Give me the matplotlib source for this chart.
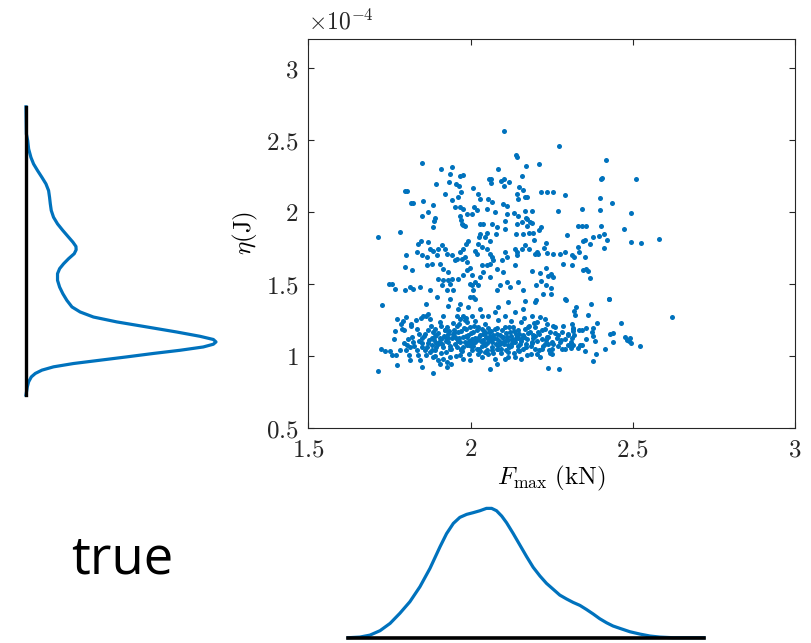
import matplotlib
matplotlib.use('Agg')
import matplotlib.pyplot as plt
from matplotlib.ticker import FuncFormatter

plt.rcParams['mathtext.fontset'] = 'cm'

BLUE = '#0072BD'

low_left = [
    (1.728, 1.353), (1.715, 0.894), (1.725, 1.048), (1.736, 1.030), (1.751, 1.030), (1.759, 1.002),
    (1.770, 1.002), (1.772, 0.938), (1.782, 1.042), (1.764, 1.113), (1.767, 1.169), (1.774, 1.256),
    (1.787, 1.222), (1.792, 1.238), (1.790, 1.187), (1.795, 1.176), (1.801, 1.268), (1.815, 1.222),
    (1.818, 1.210), (1.808, 1.118), (1.803, 1.072), (1.813, 1.060), (1.811, 1.002), (1.813, 0.968),
    (1.823, 1.095), (1.831, 1.245), (1.834, 1.187), (1.842, 1.152), (1.846, 1.261), (1.849, 1.122),
    (1.854, 1.279), (1.862, 1.275), (1.869, 1.289), (1.875, 1.256), (1.839, 1.002), (1.844, 0.968),
    (1.849, 0.921), (1.864, 1.360), (1.877, 1.210), (1.883, 1.164), (1.890, 1.187), (1.895, 1.141),
    (1.873, 1.106), (1.880, 1.072), (1.890, 1.037), (1.875, 1.026), (1.864, 1.002), (1.885, 0.991),
    (1.883, 0.880), (1.900, 0.968), (1.905, 0.945), (1.903, 1.095), (1.910, 1.118), (1.914, 1.060),
    (1.908, 1.210), (1.905, 1.233), (1.914, 1.275), (1.921, 1.176), (1.928, 1.199), (1.931, 1.095),
    (1.936, 1.049), (1.924, 1.026), (1.938, 0.991), (1.928, 0.956), (1.941, 0.945), (1.946, 1.152),
    (1.952, 1.129), (1.957, 1.118), (1.962, 1.164), (1.967, 1.095), (1.959, 1.060), (1.972, 1.049),
    (1.977, 1.129), (1.985, 1.187), (1.982, 1.095), (1.990, 1.072), (1.967, 1.002), (1.977, 0.979),
    (1.957, 1.279), (1.962, 1.326), (1.967, 1.360), (1.957, 1.210), (1.967, 1.256), (1.977, 1.279),
    (1.982, 1.245), (1.936, 1.395), (1.931, 1.349), (1.916, 0.979), (1.926, 0.921),
    (1.795, 1.090), (1.800, 1.040), (1.820, 1.130), (1.826, 1.070), (1.836, 1.040), (1.850, 1.090),
    (1.858, 1.140), (1.865, 1.060), (1.870, 1.180), (1.880, 1.120), (1.895, 1.090), (1.900, 1.160),
    (1.860, 1.040), (1.890, 1.000), (1.920, 1.130), (1.935, 1.170),
]

low_mid = [
    (1.988, 1.233), (1.998, 1.199), (1.993, 1.141), (2.004, 1.118), (2.009, 1.164), (2.014, 1.095),
    (1.995, 1.072), (2.004, 1.037), (2.019, 1.049), (2.029, 1.141), (2.034, 1.187), (2.024, 1.199),
    (2.039, 1.106), (2.045, 1.072), (2.053, 1.118), (2.057, 1.164), (2.065, 1.095), (2.070, 1.141),
    (2.075, 1.187), (2.081, 1.118), (2.086, 1.072), (2.091, 1.141), (2.096, 1.176), (2.101, 1.095),
    (2.106, 1.199), (2.111, 1.129), (2.116, 1.072), (2.122, 1.164), (2.127, 1.118), (2.132, 1.199),
    (2.137, 1.095), (2.142, 1.141), (2.147, 1.176), (2.152, 1.083), (2.157, 1.233), (2.163, 1.141),
    (2.168, 1.187), (2.173, 1.118), (2.178, 1.199), (2.183, 1.164), (2.188, 1.095), (2.193, 1.141),
    (2.199, 1.199), (2.204, 1.233), (2.209, 1.164), (2.214, 1.268), (2.219, 1.118), (2.229, 1.187),
    (2.235, 1.129), (2.240, 1.083), (2.245, 1.164), (2.250, 1.095), (2.255, 1.210), (2.270, 1.141),
    (2.275, 1.095), (2.281, 1.164), (2.291, 1.118), (2.301, 1.141), (2.311, 1.083), (2.317, 1.187),
    (1.998, 0.968), (2.060, 0.910), (2.081, 0.945), (2.106, 0.979), (2.137, 0.991), (2.173, 1.007),
    (2.204, 1.014), (2.238, 0.917), (2.274, 0.910), (2.250, 1.014), (2.281, 1.049), (2.055, 1.279),
    (2.075, 1.303), (2.086, 1.337), (2.116, 1.372), (2.168, 1.383), (2.199, 1.372), (2.291, 1.395),
    (2.137, 1.303), (2.163, 1.326), (2.014, 1.395), (2.029, 1.326), (2.004, 1.279), (2.106, 1.279),
    (2.188, 1.279), (2.229, 1.256), (2.260, 1.199), (2.286, 1.210), (2.301, 1.072), (2.024, 1.014),
    (2.045, 1.026), (2.065, 1.037), (2.116, 1.026), (2.147, 1.037), (2.219, 1.049), (2.081, 1.049),
    (2.034, 1.279), (1.993, 1.337),
    (1.952, 1.080), (1.963, 1.120), (1.971, 1.170), (1.978, 1.060), (1.986, 1.140), (1.994, 1.100),
    (2.002, 1.160), (2.008, 1.070), (2.013, 1.120), (2.021, 1.180), (2.026, 1.050), (2.031, 1.100),
    (2.037, 1.150), (2.042, 1.090), (2.048, 1.130), (2.052, 1.040), (2.058, 1.110), (2.063, 1.170),
    (2.067, 1.060), (2.072, 1.120), (2.078, 1.080), (2.083, 1.150), (2.088, 1.100), (2.093, 1.050),
    (2.098, 1.130), (2.104, 1.080), (2.109, 1.160), (2.114, 1.110), (2.119, 1.060), (2.124, 1.140),
    (2.129, 1.090), (2.134, 1.170), (2.139, 1.120), (2.145, 1.070), (2.150, 1.150), (2.156, 1.100),
    (2.161, 1.050), (2.166, 1.130), (2.171, 1.080), (2.176, 1.160), (1.925, 1.100), (1.932, 1.150),
    (1.938, 1.070), (1.944, 1.120), (1.948, 1.180), (1.905, 1.120), (1.912, 1.080), (1.918, 1.140),
    (1.895, 1.060), (1.888, 1.110), (2.185, 1.070), (2.192, 1.120), (2.198, 1.050), (2.205, 1.100),
    (2.212, 1.150), (2.222, 1.070), (2.232, 1.110), (2.242, 1.040), (2.255, 1.080), (2.265, 1.120),
]

low_dense = [
    (1.84, 1.10), (1.85, 1.06), (1.86, 1.15), (1.87, 1.09), (1.88, 1.04), (1.89, 1.14), (1.90, 1.08),
    (1.91, 1.02), (1.92, 1.18), (1.93, 1.12), (1.94, 1.05), (1.95, 1.16), (1.96, 1.10), (1.97, 1.04),
    (1.98, 1.19), (1.99, 1.13), (2.00, 1.07), (2.01, 1.21), (2.02, 1.11), (2.03, 1.03), (2.04, 1.17),
    (2.05, 1.09), (2.06, 1.14), (2.07, 1.02), (2.08, 1.19), (2.09, 1.08), (2.10, 1.13), (2.11, 1.04),
    (2.12, 1.20), (2.13, 1.10), (2.14, 1.15), (2.15, 1.03), (2.16, 1.12), (2.17, 1.06), (2.18, 1.21),
    (2.19, 1.09), (2.20, 1.14), (2.21, 1.04), (2.22, 1.18), (2.23, 1.08), (2.24, 1.13), (2.25, 1.05),
    (2.26, 1.16), (2.27, 1.07), (2.28, 1.11), (2.29, 1.05), (2.30, 1.15),
    (1.945, 1.23), (1.965, 1.22), (1.985, 1.26), (2.015, 1.24), (2.045, 1.22), (2.085, 1.25),
    (2.125, 1.24), (2.165, 1.26), (2.195, 1.23), (2.235, 1.22),
    (1.955, 1.00), (1.975, 1.03), (1.995, 1.01), (2.035, 0.99), (2.055, 1.01), (2.075, 0.98),
    (2.095, 1.02), (2.115, 0.99), (2.135, 1.02), (2.155, 0.98), (2.185, 1.01), (2.215, 0.99),
    (2.245, 1.02), (2.005, 1.09), (2.025, 1.13), (2.065, 1.12), (2.045, 1.16), (2.085, 1.05),
    (2.105, 1.10), (2.125, 1.07), (2.145, 1.12), (2.035, 1.07), (2.055, 1.19),
]

low_right = [
    (2.427, 1.395), (2.370, 1.360), (2.324, 1.337), (2.318, 1.314), (2.321, 1.284), (2.362, 1.284),
    (2.314, 1.222), (2.316, 1.192), (2.316, 1.169), (2.318, 1.146), (2.314, 1.122), (2.311, 1.095),
    (2.316, 1.072), (2.311, 1.053), (2.335, 1.176), (2.345, 1.180), (2.355, 1.194), (2.378, 1.196),
    (2.390, 1.226), (2.373, 1.164), (2.378, 1.134), (2.355, 1.118), (2.385, 1.099), (2.337, 1.072),
    (2.345, 1.072), (2.332, 1.053), (2.352, 1.030), (2.386, 1.014), (2.376, 0.965), (2.415, 1.044),
    (2.429, 1.148), (2.439, 1.157), (2.439, 1.095), (2.465, 1.229), (2.476, 1.129), (2.483, 1.106),
    (2.491, 1.122), (2.487, 1.099), (2.496, 1.090), (2.522, 1.065), (2.620, 1.266),
]

mid_left = [
    (1.803, 2.142), (1.921, 2.124), (1.962, 2.101), (1.970, 2.135), (2.024, 2.124), (2.029, 2.089),
    (2.055, 2.089), (2.065, 2.066), (2.101, 2.055), (2.111, 2.043), (2.142, 2.124), (2.147, 2.089),
    (2.168, 2.101), (1.822, 2.059), (1.852, 2.078), (1.883, 2.050), (1.942, 2.082), (1.952, 2.036),
    (1.968, 2.036), (1.976, 2.020), (2.011, 2.031), (2.021, 2.013), (2.004, 1.985), (1.988, 1.985),
    (1.966, 1.974), (1.970, 1.944), (1.973, 1.916), (1.978, 1.905), (1.983, 1.898), (1.850, 1.974),
    (1.870, 1.997), (1.891, 1.958), (1.888, 1.939), (1.885, 1.893), (1.783, 1.858), (2.050, 2.020),
    (2.075, 1.997), (2.111, 1.985), (2.134, 1.990), (2.147, 1.974), (2.106, 1.939), (2.142, 1.916),
    (2.158, 1.928), (2.173, 1.951), (2.029, 1.916), (2.039, 1.916), (2.065, 1.916), (2.081, 1.893),
    (2.079, 1.847), (2.106, 1.882), (2.140, 1.847), (2.163, 1.847), (2.029, 1.847), (2.027, 1.824),
    (2.045, 1.824), (2.050, 1.851), (2.060, 1.800), (2.024, 1.777), (2.034, 1.754), (2.014, 1.731),
    (2.021, 1.708), (2.050, 1.743), (2.060, 1.708), (2.065, 1.685), (2.070, 1.662), (2.060, 1.639),
    (2.050, 1.627), (2.034, 1.627), (2.039, 1.581), (2.029, 1.546), (2.014, 1.512), (2.024, 1.489),
    (2.004, 1.489), (2.009, 1.454), (1.998, 1.500), (1.993, 1.800), (1.986, 1.777), (1.978, 1.743),
    (1.968, 1.720), (1.957, 1.673), (1.973, 1.673), (1.983, 1.685), (1.942, 1.697), (1.927, 1.708),
    (1.921, 1.743), (1.911, 1.766), (1.901, 1.743), (1.896, 1.697), (1.885, 1.731), (1.875, 1.743),
    (1.870, 1.789), (1.846, 1.800), (1.839, 1.777), (1.834, 1.720), (1.850, 1.697), (1.865, 1.685),
    (1.880, 1.639), (1.865, 1.627), (1.800, 1.697), (1.798, 1.616), (1.819, 1.593), (1.906, 1.639),
    (1.916, 1.604), (1.932, 1.581), (1.942, 1.535), (1.932, 1.523), (1.916, 1.523), (1.901, 1.535),
    (1.911, 1.489), (1.937, 1.500), (1.962, 1.535), (1.978, 1.558), (2.004, 1.558), (1.988, 1.593),
    (1.998, 1.611), (1.947, 1.454), (1.927, 1.454), (1.875, 1.454), (1.844, 1.477), (1.824, 1.466),
    (1.798, 1.454), (1.767, 1.466), (1.757, 1.500), (1.814, 1.477), (2.106, 1.720), (2.111, 1.685),
    (2.137, 1.743), (2.142, 1.720), (2.168, 1.766), (2.158, 1.743), (2.137, 1.627), (2.142, 1.697),
    (2.096, 1.662), (2.111, 1.512), (2.091, 1.489), (2.122, 1.477), (2.147, 1.512), (2.163, 1.454),
    (2.081, 1.604), (2.101, 1.581), (2.060, 1.546), (2.081, 1.454), (1.998, 1.408), (1.896, 1.408),
    (2.009, 1.408), (1.952, 1.662), (1.990, 1.650),
]

mid_right = [
    (2.175, 2.105), (2.216, 2.135), (2.237, 2.135), (2.254, 2.135), (2.290, 2.119), (2.399, 2.096),
    (2.436, 2.062), (2.399, 2.015), (2.344, 2.020), (2.270, 2.008), (2.169, 2.008), (2.190, 2.004),
    (2.493, 1.995), (2.172, 1.958), (2.182, 1.932), (2.190, 1.923), (2.175, 1.904), (2.216, 1.893),
    (2.210, 1.874), (2.331, 1.898), (2.344, 1.898), (2.355, 1.898), (2.403, 1.898), (2.472, 1.877),
    (2.179, 1.851), (2.193, 1.851), (2.296, 1.840), (2.377, 1.824), (2.395, 1.835), (2.411, 1.844),
    (2.419, 1.805), (2.196, 1.805), (2.352, 1.805), (2.347, 1.796), (2.234, 1.784), (2.369, 1.773),
    (2.494, 1.789), (2.227, 1.750), (2.331, 1.754), (2.179, 1.743), (2.411, 1.747), (2.206, 1.724),
    (2.200, 1.708), (2.208, 1.704), (2.237, 1.713), (2.254, 1.704), (2.275, 1.708), (2.290, 1.724),
    (2.313, 1.701), (2.319, 1.685), (2.333, 1.720), (2.354, 1.685), (2.285, 1.634), (2.313, 1.627),
    (2.347, 1.593), (2.357, 1.604), (2.362, 1.588), (2.367, 1.542), (2.231, 1.609), (2.188, 1.588),
    (2.213, 1.574), (2.239, 1.551), (2.247, 1.565), (2.254, 1.547), (2.216, 1.517), (2.203, 1.489),
    (2.234, 1.489), (2.249, 1.473), (2.223, 1.431), (2.247, 1.426), (2.203, 1.389), (2.293, 1.389),
    (2.426, 1.396), (2.526, 1.780), (2.581, 1.810),
]

upper = [
    (1.894, 2.190), (1.908, 2.300), (1.934, 2.210), (1.937, 2.260), (1.943, 2.310), (1.955, 2.190),
    (1.968, 2.246), (1.977, 2.257), (1.965, 2.180), (2.009, 2.165), (2.056, 2.230), (2.062, 2.230),
    (2.064, 2.200), (2.085, 2.300), (2.095, 2.216), (2.103, 2.225), (2.102, 2.176), (2.117, 2.210),
    (2.104, 2.558), (2.139, 2.396), (2.144, 2.378), (2.150, 2.170), (2.158, 2.250), (2.170, 2.320),
    (2.162, 2.150), (2.211, 2.330), (2.272, 2.456), (2.401, 2.230), (2.405, 2.235), (2.418, 2.360),
    (2.509, 2.227), (1.850, 2.340), (1.714, 1.828), (1.750, 1.500), (1.798, 2.146), (1.815, 2.060),
]

# kernel density curves (relative height)
eta_grid = [0.727, 0.784, 0.819, 0.853, 0.877, 0.900, 0.923, 0.946, 0.969, 0.992, 1.016, 1.038,
            1.061, 1.080, 1.096, 1.113, 1.135, 1.165, 1.200, 1.235, 1.269, 1.304, 1.339, 1.385,
            1.431, 1.477, 1.524, 1.570, 1.605, 1.639, 1.674, 1.709, 1.736, 1.759, 1.789, 1.824,
            1.870, 1.916, 1.962, 2.009, 2.055, 2.101, 2.147, 2.194, 2.239, 2.286, 2.332, 2.378,
            2.436, 2.494, 2.540, 2.729]
eta_dens = [0.0, 0.007, 0.014, 0.028, 0.049, 0.084, 0.145, 0.250, 0.390, 0.530, 0.671, 0.811,
            0.933, 0.986, 1.0, 0.986, 0.916, 0.793, 0.636, 0.478, 0.355, 0.285, 0.242, 0.215,
            0.194, 0.177, 0.166, 0.166, 0.177, 0.198, 0.224, 0.254, 0.264, 0.263, 0.247, 0.224,
            0.194, 0.166, 0.145, 0.133, 0.128, 0.124, 0.119, 0.105, 0.084, 0.061, 0.040, 0.026,
            0.014, 0.009, 0.002, 0.0]
fmax_grid = [1.623, 1.659, 1.690, 1.721, 1.752, 1.782, 1.813, 1.844, 1.875, 1.906, 1.926, 1.947,
             1.967, 1.988, 2.008, 2.029, 2.049, 2.065, 2.080, 2.096, 2.111, 2.131, 2.152, 2.173,
             2.193, 2.214, 2.234, 2.255, 2.275, 2.296, 2.316, 2.337, 2.357, 2.378, 2.398, 2.419,
             2.439, 2.460, 2.491, 2.522, 2.553, 2.583, 2.624, 2.719]
fmax_dens = [0.0, 0.005, 0.020, 0.054, 0.110, 0.187, 0.276, 0.391, 0.532, 0.698, 0.798, 0.877,
             0.923, 0.946, 0.959, 0.974, 0.992, 0.992, 0.974, 0.933, 0.882, 0.801, 0.711, 0.621,
             0.540, 0.473, 0.417, 0.371, 0.327, 0.297, 0.271, 0.248, 0.217, 0.182, 0.146, 0.115,
             0.090, 0.072, 0.046, 0.028, 0.013, 0.005, 0.0, 0.0]

pts = low_left + low_mid + low_dense + low_right + mid_left + mid_right + upper
fmax = [p[0] for p in pts]
eta = [p[1] for p in pts]

fig = plt.figure(figsize=(8.12, 6.43), dpi=100)

# main scatter
ax = fig.add_axes([0.3797, 0.3348, 0.5994, 0.6045])
ax.scatter(fmax, eta, s=13, color=BLUE, linewidths=0)
ax.set_xlim(1.5, 3)
ax.set_ylim(0.5, 3.2)
ax.set_xticks([1.5, 2, 2.5, 3])
ax.set_yticks([0.5, 1, 1.5, 2, 2.5, 3])
fmt = FuncFormatter(lambda v, p: '$%g$' % v)
ax.xaxis.set_major_formatter(fmt)
ax.yaxis.set_major_formatter(fmt)
ax.tick_params(direction='in', length=4, width=0.8, top=True, right=True,
               labelsize=18, colors='#262626', pad=7)
for s in ax.spines.values():
    s.set_linewidth(0.8)
    s.set_color('#262626')
ax.set_xlabel(r'$F_{\max}\ (\mathrm{kN})$', fontsize=18, labelpad=2)
ax.set_ylabel(r'$\eta(\mathrm{J})$', fontsize=18, labelpad=4)
ax.text(0, 1.012, r'$\times10^{-4}$', transform=ax.transAxes, fontsize=17,
        ha='left', va='bottom', color='#262626')

# left density of eta
axl = fig.add_axes([0.032, 0.3348, 0.234, 0.6045])
axl.plot(eta_dens, eta_grid, color=BLUE, lw=2.3, clip_on=False)
axl.plot([0, 0], [eta_grid[0], eta_grid[-1]], color='black', lw=2.4, clip_on=False)
axl.set_xlim(0, 1)
axl.set_ylim(0.5, 3.2)
axl.axis('off')

# bottom density of F_max
axb = fig.add_axes([0.3797, 0.0082, 0.5994, 0.2028])
axb.plot(fmax_grid, fmax_dens, color=BLUE, lw=2.3, clip_on=False)
axb.plot([fmax_grid[0], fmax_grid[-1]], [0, 0], color='black', lw=2.6, clip_on=False)
axb.set_xlim(1.5, 3)
axb.set_ylim(0, 1)
axb.axis('off')

fig.text(0.151, 0.13, 'true', fontsize=38, family='Open Sans', ha='center', va='center')

fig.savefig('out.png', dpi=100)
